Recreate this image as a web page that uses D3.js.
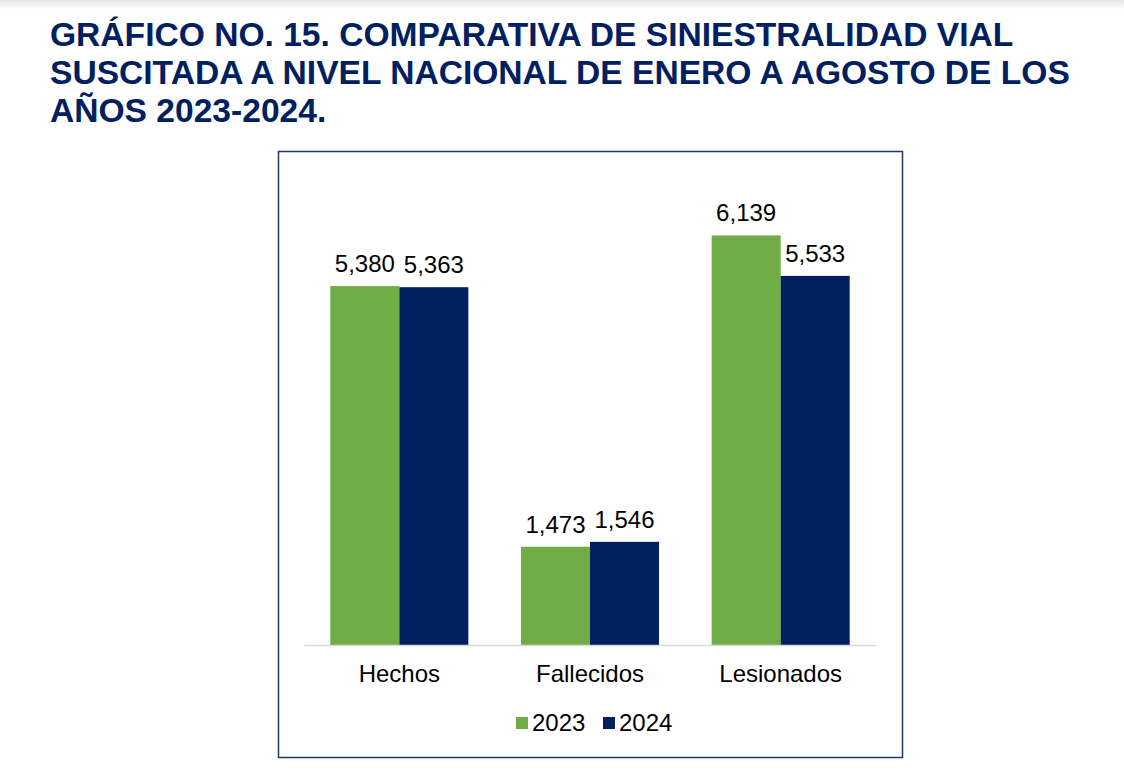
<!DOCTYPE html>
<html>
<head>
<meta charset="utf-8">
<script src="https://cdn.jsdelivr.net/npm/d3@7"></script>
<style>
  html, body { margin: 0; padding: 0; background: #fff; }
  svg { display: block; }
</style>
</head>
<body>
<svg id="chart" width="1124" height="777"></svg>
<script>
const titleLines = [
  "GRÁFICO NO. 15. COMPARATIVA DE SINIESTRALIDAD VIAL",
  "SUSCITADA A NIVEL NACIONAL DE ENERO A AGOSTO DE LOS",
  "AÑOS 2023-2024."
];
const categories = ["Hechos", "Fallecidos", "Lesionados"];
const seriesNames = ["2023", "2024"];
const values2023 = [5380, 1473, 6139];
const values2024 = [5363, 1546, 5533];
const colors = ["#70ad47", "#002060"];

const svg = d3.select("#chart");
const font = "'Liberation Sans', Arial, sans-serif";

// faint top shadow
const defs = svg.append("defs");
const grad = defs.append("linearGradient").attr("id", "topShade")
  .attr("x1", 0).attr("y1", 0).attr("x2", 0).attr("y2", 1);
grad.append("stop").attr("offset", "0%").attr("stop-color", "#e6e6e6");
grad.append("stop").attr("offset", "100%").attr("stop-color", "#ffffff");
svg.append("rect").attr("x", 0).attr("y", 0).attr("width", 1124).attr("height", 9)
  .attr("fill", "url(#topShade)");

// title
svg.append("g").selectAll("text").data(titleLines).join("text")
  .attr("x", 50).attr("y", (d, i) => 46 + i * 38)
  .attr("font-family", font).attr("font-weight", "bold").attr("font-size", 33.6)
  .attr("fill", "#002060")
  .text(d => d);

// chart frame
svg.append("rect").attr("x", 278.5).attr("y", 151.5).attr("width", 624).attr("height", 606)
  .attr("fill", "none").attr("stroke", "#1f3864").attr("stroke-width", 1.5);

const x0 = d3.scaleBand().domain(categories).range([304, 876])
  .paddingInner(0.276).paddingOuter(0.138);
const x1 = d3.scaleBand().domain(seriesNames).range([0, x0.bandwidth()]).padding(0);
const y = d3.scaleLinear().domain([0, 7000]).range([645, 178]);

const data = categories.map((c, i) => ({
  cat: c,
  vals: [{s: "2023", v: values2023[i], c: colors[0]}, {s: "2024", v: values2024[i], c: colors[1]}]
}));

const groups = svg.append("g").selectAll("g").data(data).join("g")
  .attr("transform", d => `translate(${x0(d.cat)},0)`);

groups.selectAll("rect").data(d => d.vals).join("rect")
  .attr("x", d => x1(d.s)).attr("y", d => y(d.v))
  .attr("width", x1.bandwidth()).attr("height", d => y(0) - y(d.v))
  .attr("fill", d => d.c);

groups.selectAll("text.val").data(d => d.vals).join("text")
  .attr("class", "val")
  .attr("x", d => x1(d.s) + x1.bandwidth() / 2).attr("y", d => y(d.v) - 14)
  .attr("text-anchor", "middle")
  .attr("font-family", font).attr("font-size", 24).attr("fill", "#000")
  .text(d => d3.format(",")(d.v));

// baseline axis
const xAxis = d3.axisBottom(x0).tickSize(0).tickPadding(0);
const ax = svg.append("g").attr("transform", `translate(0,${y(0)})`).call(xAxis);
ax.select(".domain").attr("stroke", "#d9d9d9").attr("stroke-width", 1.5);
ax.selectAll(".tick text")
  .attr("y", 37).attr("dy", 0)
  .attr("font-family", font).attr("font-size", 24).attr("fill", "#000");

// legend
const legend = svg.append("g");
const legendX = [516, 603];
seriesNames.forEach((s, i) => {
  legend.append("rect").attr("x", legendX[i]).attr("y", 717).attr("width", 12).attr("height", 12)
    .attr("fill", colors[i]);
  legend.append("text").attr("x", legendX[i] + 16).attr("y", 731)
    .attr("font-family", font).attr("font-size", 24).attr("fill", "#000").text(s);
});
</script>
</body>
</html>
